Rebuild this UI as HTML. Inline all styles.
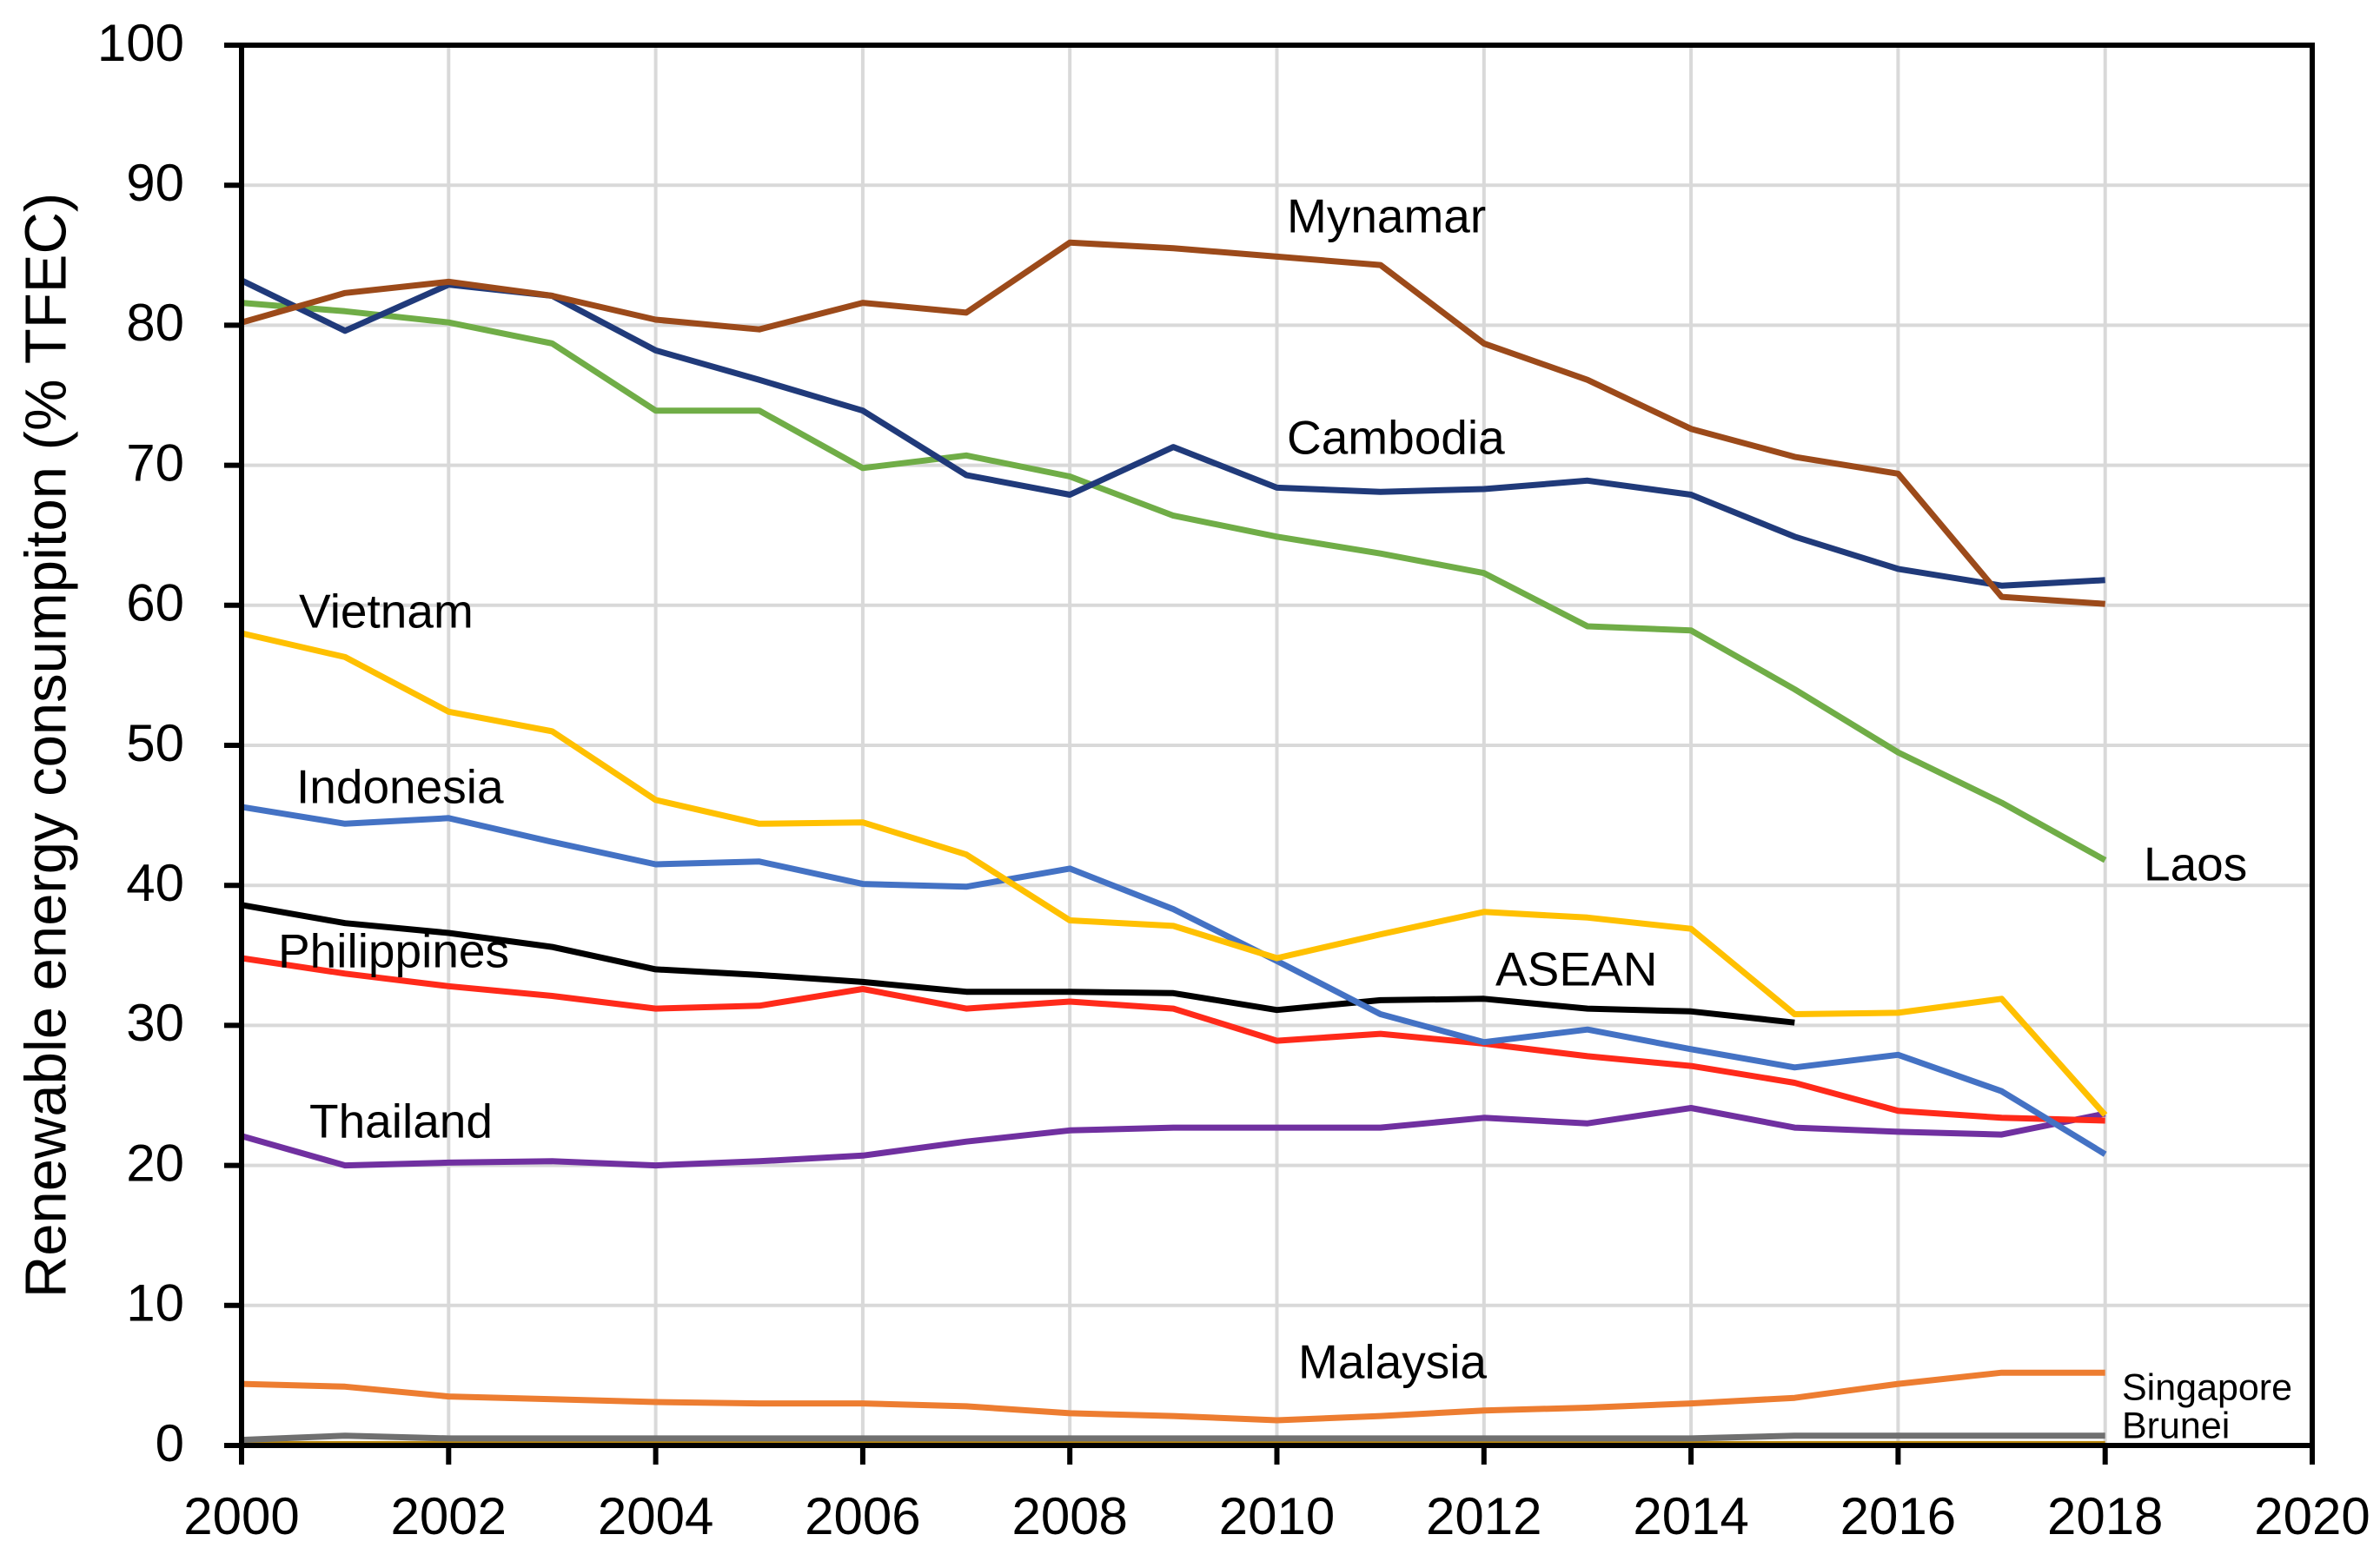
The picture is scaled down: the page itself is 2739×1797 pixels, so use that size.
<!DOCTYPE html>
<html><head><meta charset="utf-8"><style>
html,body{margin:0;padding:0;background:#fff;}
svg{display:block;font-family:"Liberation Sans",sans-serif;}
</style></head><body>
<svg id="chart" width="2739" height="1797" viewBox="0 0 2739 1797">
<g id="grid"></g>
<g id="series"></g>
<g id="axes"></g>
<g id="labels"></g>
<text x="58" y="858" font-size="67" text-anchor="middle" dominant-baseline="middle" transform="rotate(-90 58 858)">Renewable energy consumpiton (% TFEC)</text>
</svg>
<script>
const years = [2000,2001,2002,2003,2004,2005,2006,2007,2008,2009,2010,2011,2012,2013,2014,2015,2016,2017,2018];
const myanmar = [80.2,82.3,83.1,82.1,80.4,79.7,81.6,80.9,85.9,85.5,84.9,84.3,78.7,76.1,72.6,70.6,69.4,60.6,60.1];
const cambodia = [83.2,79.6,82.9,82.1,78.2,76.1,73.9,69.3,67.9,71.3,68.4,68.1,68.3,68.9,67.9,64.9,62.6,61.4,61.8];
const laos = [81.6,81.0,80.2,78.7,73.9,73.9,69.8,70.7,69.2,66.4,64.9,63.7,62.3,58.5,58.2,54.0,49.5,45.9,41.8];
const vietnam = [58.0,56.3,52.4,51.0,46.1,44.4,44.5,42.2,37.5,37.1,34.8,36.5,38.1,37.7,36.9,30.8,30.9,31.9,23.6];
const indonesia = [45.6,44.4,44.8,43.1,41.5,41.7,40.1,39.9,41.2,38.3,34.6,30.8,28.8,29.7,28.3,27.0,27.9,25.3,20.8];
const asean = [38.6,37.3,36.6,35.6,34.0,33.6,33.1,32.4,32.4,32.3,31.1,31.8,31.9,31.2,31.0,30.2];
const philippines = [34.8,33.7,32.8,32.1,31.2,31.4,32.6,31.2,31.7,31.2,28.9,29.4,28.7,27.8,27.1,25.9,23.9,23.4,23.2];
const thailand = [22.1,20.0,20.2,20.3,20.0,20.3,20.7,21.7,22.5,22.7,22.7,22.7,23.4,23.0,24.1,22.7,22.4,22.2,23.7];
const malaysia = [4.4,4.2,3.5,3.3,3.1,3.0,3.0,2.8,2.3,2.1,1.8,2.1,2.5,2.7,3.0,3.4,4.4,5.2,5.2];
const brunei = [0.4,0.7,0.5,0.5,0.5,0.5,0.5,0.5,0.5,0.5,0.5,0.5,0.5,0.5,0.5,0.7,0.7,0.7,0.7];
const singapore = [0.1,0.1,0.1,0.1,0.1,0.1,0.1,0.1,0.1,0.1,0.1,0.1,0.1,0.1,0.1,0.1,0.1,0.1,0.1];
const yTicks = [0,10,20,30,40,50,60,70,80,90,100];
const xTicks = [2000,2002,2004,2006,2008,2010,2012,2014,2016,2018,2020];

const NS = "http://www.w3.org/2000/svg";
const L=278,R=2661,T=52,B=1664;
const xs = v => L + (v-2000)/20*(R-L);
const ys = v => B - v/100*(B-T);
function mk(tag, attrs, parent){const e=document.createElementNS(NS,tag);for(const k in attrs)e.setAttribute(k,attrs[k]);parent.appendChild(e);return e;}
const grid=document.getElementById('grid'), axes=document.getElementById('axes'), ser=document.getElementById('series');
yTicks.forEach(t=>{
  if(t>0&&t<100){const g=mk('line',{x1:L,x2:R,y1:ys(t),y2:ys(t),stroke:'#d9d9d9','stroke-width':4},grid);
  
  }
  const tk=mk('line',{x1:L-20,x2:L,y1:ys(t),y2:ys(t),stroke:'#000','stroke-width':6},axes);
  
  
  const tx=mk('text',{x:212,y:ys(t)+2,'font-size':60,'text-anchor':'end','dominant-baseline':'middle'},axes);
  tx.textContent=t;
  
  
});
xTicks.forEach(t=>{
  if(t>2000&&t<2020){const g=mk('line',{x1:xs(t),x2:xs(t),y1:T,y2:B,stroke:'#d9d9d9','stroke-width':4},grid);
  
  }
  const tk=mk('line',{x1:xs(t),x2:xs(t),y1:B,y2:B+22,stroke:'#000','stroke-width':6},axes);
  
  
  const tx=mk('text',{x:xs(t),y:1750,'font-size':60,'text-anchor':'middle','dominant-baseline':'middle'},axes);
  tx.textContent=t;
  
  
});
const frame=mk('rect',{x:L,y:T,width:R-L,height:B-T,fill:'none',stroke:'#000','stroke-width':6},axes);


const seriesList=[
 ['singapore-line',singapore,'#b8860b'],['brunei-line',brunei,'#707070'],['malaysia-line',malaysia,'#ed7d31'],
 ['thailand-line',thailand,'#7030a0'],['philippines-line',philippines,'#ff2a1a'],['asean-line',asean,'#000000'],
 ['indonesia-line',indonesia,'#4472c4'],['vietnam-line',vietnam,'#ffc000'],['laos-line',laos,'#70ad47'],
 ['cambodia-line',cambodia,'#203a7a'],['myanmar-line',myanmar,'#9c4a1a']];
seriesList.forEach(([name,vals,col])=>{
  const d=vals.map((v,i)=>(i?'L':'M')+xs(years[i]).toFixed(1)+' '+ys(v).toFixed(1)).join(' ');
  const p=mk('path',{d:d,fill:'none',stroke:col,'stroke-width':7,'stroke-linejoin':'round'},ser);
  
  
});
const lab=document.getElementById('labels');
[['Mynamar',1481,253,55],['Cambodia',1481,508,55],['Vietnam',344,708,55],['Indonesia',341,910,55],
 ['Philippines',320,1099,55],['ASEAN',1721,1120,55],['Thailand',356,1295,55],['Laos',2467,999,55],
 ['Malaysia',1494,1572,55],['Singapore',2442,1600,43],['Brunei',2442,1644,43]].forEach(([t,x,y,f])=>{
  const e=mk('text',{x:x,y:y,'font-size':f,'dominant-baseline':'middle'},lab);
  e.textContent=t;
  
  
});
</script>
</body></html>
